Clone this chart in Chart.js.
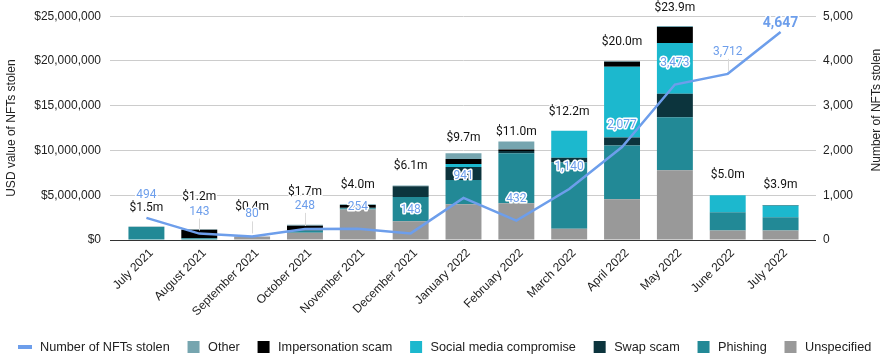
<!DOCTYPE html>
<html>
<head>
<meta charset="utf-8">
<script src="https://cdn.jsdelivr.net/npm/chart.js@4.4.0/dist/chart.umd.min.js"></script>
<style>
  html, body { margin: 0; padding: 0; background: #fff; }
</style>
</head>
<body>
<canvas id="myChart" width="889" height="363"></canvas>
<script>
const months = ['July 2021', 'August 2021', 'September 2021', 'October 2021', 'November 2021', 'December 2021',
  'January 2022', 'February 2022', 'March 2022', 'April 2022', 'May 2022', 'June 2022', 'July 2022'];

// USD stolen per category, in millions
const unspecified  = [0,    0,    0.4, 0.8,  3.4,  2.1, 4.0,  4.1,  1.25, 4.55, 7.8,  1.05, 1.05];
const phishing     = [1.45, 0.2,  0,   0.25, 0.15, 2.7, 2.7,  5.6,  7.4,  6.0,  5.9,  2.05, 1.5];
const swapScam     = [0,    0,    0,   0,    0.05, 1.2, 1.45, 0.25, 0.55, 0.9,  2.65, 0,    0];
const socialMedia  = [0,    0,    0,   0,    0,    0,   0.35, 0,    3.0,  7.9,  5.65, 1.9,  1.3];
const impersonation= [0,    0.95, 0,   0.55, 0.3,  0,   0.55, 0.15, 0,    0.55, 1.8,  0,    0.05];
const other        = [0.05, 0.05, 0,   0.1,  0.1,  0.1, 0.65, 0.9,  0,    0.1,  0.1,  0,    0];

const totalLabels = ['$1.5m', '$1.2m', '$0.4m', '$1.7m', '$4.0m', '$6.1m', '$9.7m', '$11.0m', '$12.2m', '$20.0m', '$23.9m', '$5.0m', '$3.9m'];

const nftsStolen = [494, 143, 80, 248, 254, 148, 941, 432, 1140, 2077, 3473, 3712, 4647];

const lineColor = '#6d9eeb';

// label placement tweaks (px above bar top / point)
const totalGap = [19, 32, 29, 33, 19, 19, 15, 10, 19, 19, 18, 20, 20];
const countGap = [23, 22, 22, 23, 22, 23, 22, 22, 22, 22, 22, 22, 9];
const countLeader = [false, true, true, true, false, false, false, false, false, false, false, true, false];

const barSeries = [
  { label: 'Unspecified', data: unspecified, color: '#999999' },
  { label: 'Phishing', data: phishing, color: '#228996' },
  { label: 'Swap scam', data: swapScam, color: '#0c343d' },
  { label: 'Social media compromise', data: socialMedia, color: '#1cb8ce' },
  { label: 'Impersonation scam', data: impersonation, color: '#000000' },
  { label: 'Other', data: other, color: '#76a5af' }
];

const axisFont = { family: "'Liberation Sans', Arial, sans-serif", size: 12 };

const labelPlugin = {
  id: 'valueLabels',
  afterDatasetsDraw(chart) {
    const ctx = chart.ctx;
    const x = chart.scales.x;
    const yL = chart.scales.y;
    ctx.save();
    ctx.textAlign = 'center';
    ctx.textBaseline = 'middle';
    ctx.lineJoin = 'round';

    // stacked totals
    ctx.font = '12px Roboto, sans-serif';
    months.forEach((m, i) => {
      const sum = barSeries.reduce((s, d) => s + d.data[i], 0);
      const px = x.getPixelForValue(i);
      const py = yL.getPixelForValue(sum * 1e6) - totalGap[i];
      ctx.strokeStyle = '#fff';
      ctx.lineWidth = 3;
      ctx.strokeText(totalLabels[i], px, py);
      ctx.fillStyle = '#111';
      ctx.fillText(totalLabels[i], px, py);
    });

    // NFT count labels
    const meta = chart.getDatasetMeta(0);
    meta.data.forEach((pt, i) => {
      const last = i === nftsStolen.length - 1;
      const ly = pt.y - countGap[i];
      if (countLeader[i]) {
        ctx.strokeStyle = '#d9d9d9';
        ctx.lineWidth = 1;
        ctx.beginPath();
        ctx.moveTo(Math.round(pt.x) + 0.5, ly + 7);
        ctx.lineTo(Math.round(pt.x) + 0.5, pt.y - 3);
        ctx.stroke();
      }
      const txt = nftsStolen[i].toLocaleString('en-US');
      ctx.font = last ? 'bold 14px Roboto, sans-serif' : '12px Roboto, sans-serif';
      ctx.strokeStyle = '#fff';
      ctx.lineWidth = 3;
      ctx.strokeText(txt, pt.x, ly);
      ctx.fillStyle = lineColor;
      ctx.fillText(txt, pt.x, ly);
    });
    ctx.restore();
  },
  afterDraw(chart) {
    const ctx = chart.ctx;
    const area = chart.chartArea;
    ctx.save();
    // right axis title, reading upwards
    ctx.font = "12px 'Liberation Sans', Arial, sans-serif";
    ctx.fillStyle = '#222';
    ctx.textAlign = 'center';
    ctx.textBaseline = 'middle';
    ctx.translate(chart.width - 12, (area.top + area.bottom) / 2 - 18);
    ctx.rotate(-Math.PI / 2);
    ctx.fillText('Number of NFTs stolen', 0, 0);
    ctx.restore();

    // legend along the bottom
    const items = [{ label: 'Number of NFTs stolen', color: lineColor, line: true }]
      .concat(barSeries.slice().reverse());
    const cy = 347;
    let lx = 18;
    ctx.save();
    ctx.font = "12.7px 'Liberation Sans', Arial, sans-serif";
    ctx.textBaseline = 'middle';
    ctx.textAlign = 'left';
    items.forEach(it => {
      ctx.fillStyle = it.color;
      if (it.line) {
        ctx.fillRect(lx, cy - 2, 14, 4);
        lx += 22;
      } else {
        ctx.fillRect(lx, cy - 6, 12, 12);
        lx += 20.5;
      }
      ctx.fillStyle = '#222';
      ctx.fillText(it.label, lx, cy);
      lx += ctx.measureText(it.label).width + 17.8;
    });
    ctx.restore();
  }
};

const ctx = document.getElementById('myChart');

const chart = new Chart(ctx, {
  data: {
    labels: months,
    datasets: [{
      type: 'line',
      label: 'Number of NFTs stolen',
      data: nftsStolen,
      yAxisID: 'y1',
      borderColor: lineColor,
      backgroundColor: lineColor,
      borderWidth: 2.5,
      pointRadius: 0,
      tension: 0,
      order: 0
    }].concat(barSeries.map(s => ({
      type: 'bar',
      label: s.label,
      data: s.data.map(v => v * 1e6),
      backgroundColor: s.color,
      yAxisID: 'y',
      barPercentage: 0.68,
      categoryPercentage: 1,
      order: 1
    })))
  },
  options: {
    responsive: false,
    animation: false,
    devicePixelRatio: 1,
    layout: { padding: { top: 15, left: 0, right: 0, bottom: 0 } },
    plugins: {
      legend: { display: false },
      tooltip: { enabled: false }
    },
    scales: {
      x: {
        stacked: true,
        afterFit: s => { s.height = 123; },
        border: { display: false },
        grid: { drawOnChartArea: false, drawTicks: false },
        ticks: { font: axisFont, color: '#222', minRotation: 45, maxRotation: 45, autoSkip: false, padding: 6, labelOffset: 5 }
      },
      y: {
        stacked: true,
        position: 'left',
        min: 0,
        max: 25000000,
        afterFit: s => { s.width = 120; },
        border: { display: false },
        grid: {
          color: c => c.tick && c.tick.value === 0 ? '#333' : '#cccccc',
          tickLength: 10
        },
        ticks: {
          stepSize: 5000000,
          font: axisFont,
          color: '#222',
          padding: 9,
          callback: v => '$' + v.toLocaleString('en-US')
        },
        title: { display: true, text: 'USD value of NFTs stolen', font: axisFont, color: '#222', padding: { top: 4, bottom: 0 } }
      },
      y1: {
        position: 'right',
        min: 0,
        max: 5000,
        afterFit: s => { s.width = 82; },
        border: { display: false },
        grid: {
          drawOnChartArea: false,
          color: c => c.tick && c.tick.value === 0 ? '#333' : '#cccccc',
          tickLength: 9
        },
        ticks: {
          stepSize: 1000,
          font: axisFont,
          color: '#222',
          padding: 7,
          callback: v => v.toLocaleString('en-US')
        }
      }
    }
  },
  plugins: [labelPlugin]
});
</script>
</body>
</html>
